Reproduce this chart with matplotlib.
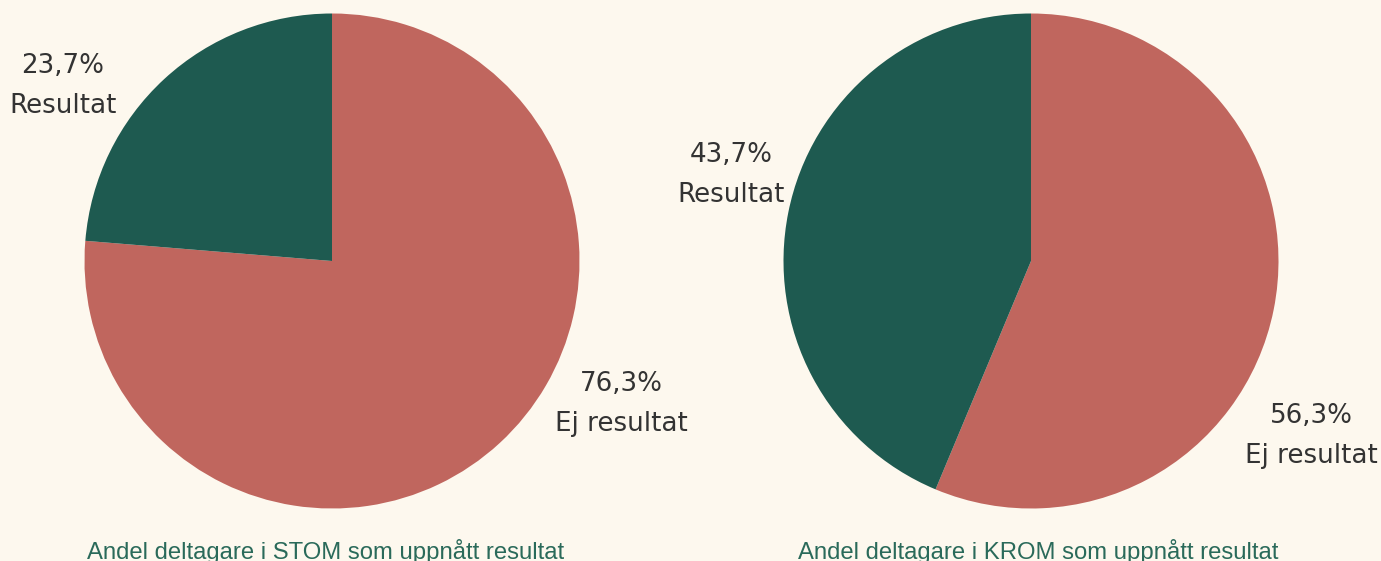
import matplotlib
matplotlib.use("Agg")
import matplotlib.pyplot as plt

categories = ["Ej resultat", "Resultat"]
stom_values = [76.3, 23.7]
krom_values = [56.3, 43.7]
titles = ["Andel deltagare i STOM som uppnått resultat",
          "Andel deltagare i KROM som uppnått resultat"]

BG = "#FDF8EE"
RED = "#C0665E"
GREEN = "#1E5A50"
TITLE_C = "#2A6A5A"
TEXT_C = "#333333"

W, H = 1381, 561
fig = plt.figure(figsize=(W / 100, H / 100), dpi=100, facecolor=BG)

def px_axes(cx, cy, r):
    return fig.add_axes([(cx - r) / W, (H - cy - r) / H, 2 * r / W, 2 * r / H])

pies = [
    dict(values=stom_values, center=(332, 261), r=247.5, title=titles[0], tx=326,
         lab=[(621, 404), (63, 86)]),
    dict(values=krom_values, center=(1031, 261), r=247.5, title=titles[1], tx=1038,
         lab=[(1311, 436), (731, 175)]),
]

for p in pies:
    ax = px_axes(p["center"][0], p["center"][1], p["r"])
    ax.pie(p["values"], colors=[RED, GREEN], startangle=90, counterclock=False,
           radius=1, wedgeprops=dict(linewidth=0))
    ax.set_xlim(-1, 1)
    ax.set_ylim(-1, 1)
    ax.set_aspect("equal")
    ax.axis("off")
    for cat, val, (lx, ly) in zip(categories, p["values"], p["lab"]):
        txt = f"{val:.1f}%".replace(".", ",") + "\n" + cat
        fig.text(lx / W, 1 - ly / H, txt, ha="center", va="center",
                 fontsize=18.8, color=TEXT_C, family="DejaVu Sans", linespacing=1.7)
    fig.text(p["tx"] / W, 1 - 551 / H, p["title"], ha="center", va="center",
             fontsize=17.2, color=TITLE_C, family="Liberation Sans")

fig.savefig("out.png", dpi=100, facecolor=BG)
